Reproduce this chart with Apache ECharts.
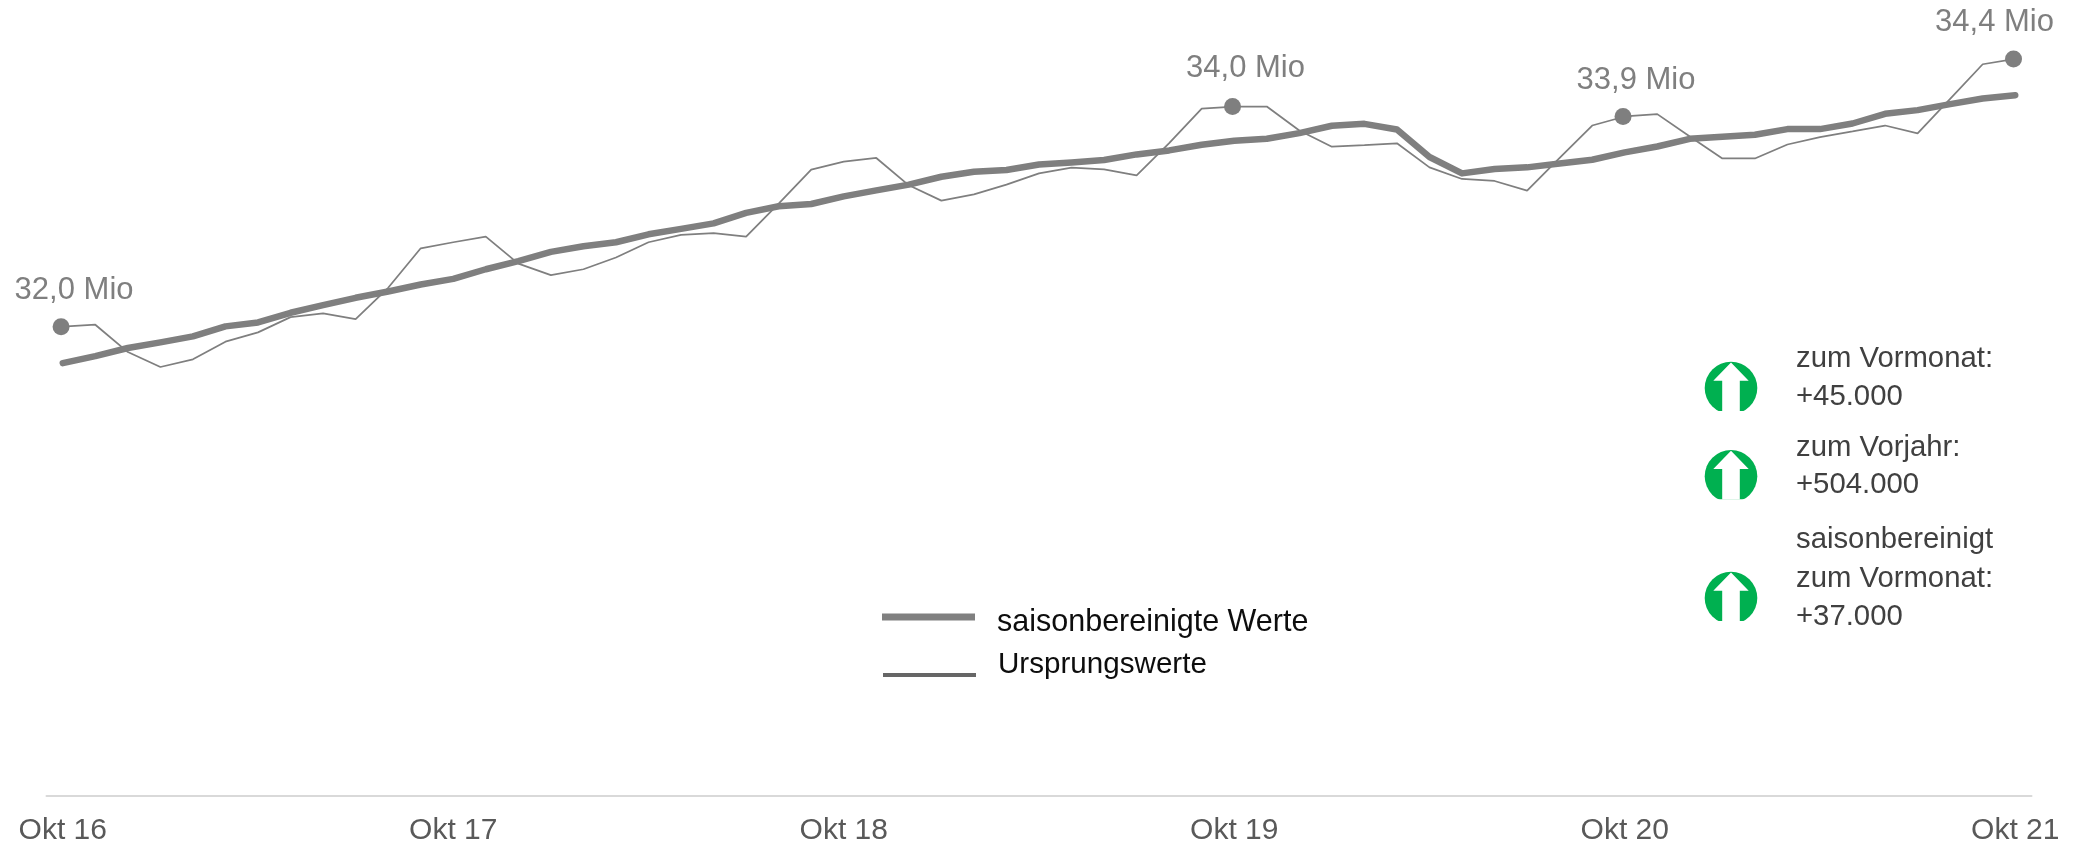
<!DOCTYPE html>
<html><head><meta charset="utf-8">
<style>html,body{margin:0;padding:0;background:#fff}#c{width:2073px;height:846px}</style>
<script src="https://cdn.jsdelivr.net/npm/echarts@6/dist/echarts.min.js"></script>
</head><body><div id="c"></div>
<script>
const categories = [
"Okt 16","Nov 16","Dez 16","Jan 17","Feb 17","Mär 17","Apr 17","Mai 17","Jun 17","Jul 17","Aug 17","Sep 17",
"Okt 17","Nov 17","Dez 17","Jan 18","Feb 18","Mär 18","Apr 18","Mai 18","Jun 18","Jul 18","Aug 18","Sep 18",
"Okt 18","Nov 18","Dez 18","Jan 19","Feb 19","Mär 19","Apr 19","Mai 19","Jun 19","Jul 19","Aug 19","Sep 19",
"Okt 19","Nov 19","Dez 19","Jan 20","Feb 20","Mär 20","Apr 20","Mai 20","Jun 20","Jul 20","Aug 20","Sep 20",
"Okt 20","Nov 20","Dez 20","Jan 21","Feb 21","Mär 21","Apr 21","Mai 21","Jun 21","Jul 21","Aug 21","Sep 21",
"Okt 21"];
const ursprungswerte = [
32.000,32.018,31.773,31.639,31.708,31.866,31.949,32.086,32.119,32.068,32.349,32.703,
32.757,32.808,32.566,32.462,32.515,32.620,32.757,32.823,32.839,32.808,33.103,33.407,
33.479,33.512,33.267,33.130,33.186,33.273,33.374,33.425,33.410,33.356,33.646,33.955,
33.973,33.973,33.758,33.613,33.628,33.644,33.428,33.324,33.306,33.219,33.512,33.803,
33.884,33.905,33.705,33.508,33.508,33.633,33.699,33.750,33.803,33.732,34.042,34.352,
34.400];
const saisonbereinigt = [
31.674,31.737,31.809,31.860,31.913,32.003,32.038,32.125,32.193,32.259,32.316,32.378,
32.429,32.515,32.587,32.671,32.721,32.757,32.828,32.877,32.926,33.020,33.079,33.100,
33.168,33.222,33.273,33.344,33.389,33.404,33.454,33.472,33.494,33.544,33.580,33.631,
33.666,33.684,33.735,33.801,33.818,33.767,33.521,33.374,33.413,33.428,33.463,33.496,
33.562,33.615,33.684,33.702,33.720,33.771,33.771,33.821,33.908,33.941,33.995,34.045,
34.075];
const calloutIndex = [0,36,48,60];
const calloutText = ["32,0 Mio","34,0 Mio","33,9 Mio","34,4 Mio"];
const calloutOffset = [[13,-36.5],[13,-38.5],[13,-36.5],[-19,-36.5]];
const seriesNames = ["saisonbereinigte Werte","Ursprungswerte"];
const indicatorLines = [
  {t:"zum Vormonat:",y:358.5},{t:"+45.000",y:396.5},
  {t:"zum Vorjahr:",y:447.5},{t:"+504.000",y:484.5},
  {t:"saisonbereinigt",y:539.5},{t:"zum Vormonat:",y:578.5},{t:"+37.000",y:616.5}];
const indicatorTops = [361.7,450,571.7];

const FONT = '"Liberation Sans", Arial, sans-serif';
const GREY = '#7F7F7F';

const origData = ursprungswerte.map((v,i)=>{
  const k = calloutIndex.indexOf(i);
  if (k < 0) return {value:v, symbol:'none'};
  return {value:v, symbol:'circle', symbolSize:17, symbolOffset:[-1.7,0],
    itemStyle:{color:GREY},
    label:{show:true, position:'inside', align:'center', verticalAlign:'middle',
      offset:calloutOffset[k], formatter:calloutText[k],
      color:GREY, fontSize:31, fontFamily:FONT}};
});

const graphic = [];
indicatorTops.forEach(top=>{
  graphic.push({type:'circle',x:1731,y:top+26.3,shape:{r:26.3},style:{fill:'#00B050'},silent:true,z:10});
  graphic.push({type:'rect',x:1700,y:top+49.3,shape:{width:62,height:6},style:{fill:'#fff'},silent:true,z:11});
  graphic.push({type:'polygon',x:1731,y:top,silent:true,z:12,
    shape:{points:[[0,0.7],[17.7,19],[8.8,19],[8.8,49.5],[-8.8,49.5],[-8.8,19],[-17.7,19]]},
    style:{fill:'#fff'}});
});
indicatorLines.forEach(l=>{
  graphic.push({type:'text',x:1796,y:l.y,silent:true,z:11,
    style:{text:l.t,fill:'#404040',font:'29.3px '+FONT,verticalAlign:'middle'}});
});

const chart = echarts.init(document.getElementById('c'),null,{renderer:'canvas'});
chart.setOption({
  animation:false,
  backgroundColor:'#fff',
  graphic:graphic,
  legend:[
    {left:882,top:607.5,orient:'vertical',padding:0,itemWidth:93,itemHeight:24,itemGap:0,
     selectedMode:false,
     data:[{name:seriesNames[0],icon:'path://M0 0L0 0M0 24L0 24M0 2.5H93V9.5H0Z',itemStyle:{color:'#808080'}}],
     textStyle:{fontSize:30.5,fontFamily:FONT,color:'#0D0D0D',padding:[0,0,0,17]}},
    {left:883,top:650,orient:'vertical',padding:0,itemWidth:93,itemHeight:28,itemGap:0,
     selectedMode:false,
     data:[{name:seriesNames[1],icon:'path://M0 0L0 0M0 28L0 28M0 22H93V26H0Z',itemStyle:{color:'#666666'}}],
     textStyle:{fontSize:29.6,fontFamily:FONT,color:'#0D0D0D',padding:[0,0,0,17]}}
  ],
  grid:{left:46.5,width:1985,top:3.1,bottom:48.5,containLabel:false},
  xAxis:{type:'category',data:categories,boundaryGap:true,
    axisLine:{show:true,lineStyle:{color:'#D9D9D9',width:2}},
    axisTick:{show:false},
    axisLabel:{interval:11,color:'#595959',fontSize:30,fontFamily:FONT,margin:20.6,showMinLabel:true,showMaxLabel:true,hideOverlap:false},
    splitLine:{show:false}},
  yAxis:{type:'value',min:27.8,max:34.9,show:false,splitLine:{show:false}},
  series:[
    {name:seriesNames[1],type:'line',data:origData,showSymbol:true,symbol:'none',
     lineStyle:{color:GREY,width:1.75},itemStyle:{color:GREY},z:2},
    {name:seriesNames[0],type:'line',data:saisonbereinigt,showSymbol:false,symbol:'none',
     lineStyle:{color:GREY,width:6.5,cap:'round',join:'round'},itemStyle:{color:GREY},z:3}
  ]
});
</script></body></html>
